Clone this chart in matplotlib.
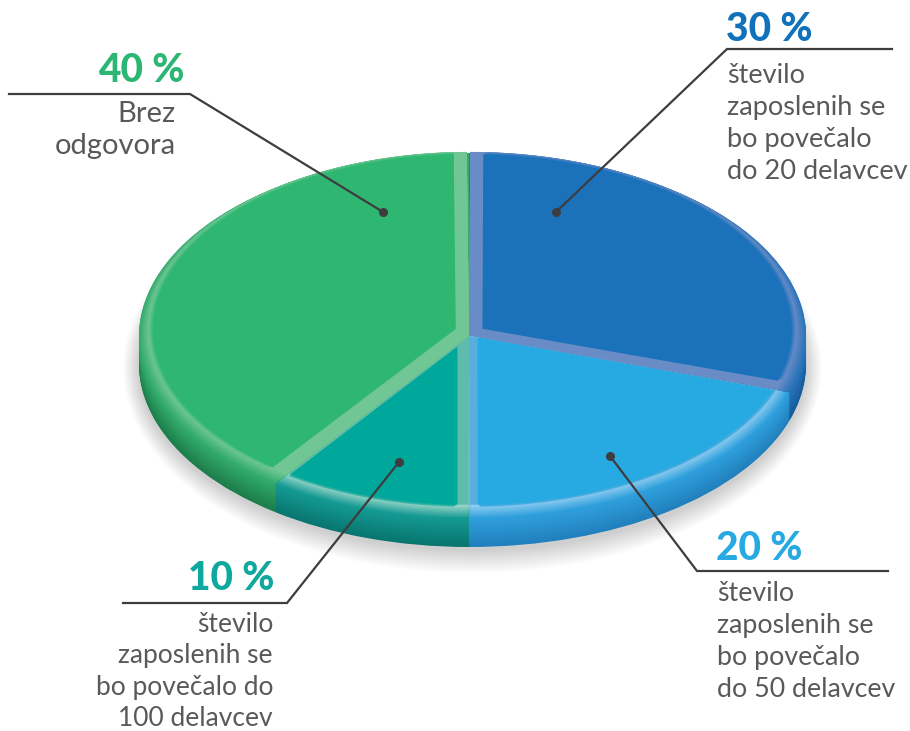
import numpy as np
import matplotlib
matplotlib.use("Agg")
import matplotlib.pyplot as plt
from matplotlib.patches import Ellipse, Polygon
from matplotlib.colors import to_rgb
from matplotlib.transforms import Affine2D

plt.rcParams["font.family"] = ["Lato", "DejaVu Sans"]

# chart data, clockwise from 12 o'clock
shares = [30, 20, 10, 40]
pct_labels = ["30 %", "20 %", "10 %", "40 %"]
descriptions = [
    ["število", "zaposlenih se", "bo povečalo", "do 20 delavcev"],
    ["število", "zaposlenih se", "bo povečalo", "do 50 delavcev"],
    ["število", "zaposlenih se", "bo povečalo do", "100 delavcev"],
    ["Brez", "odgovora"],
]

# styles
main_cols = ["#1b72bb", "#27a9e1", "#00a79b", "#2fb772"]
text_cols = ["#0f72ba", "#27a9e1", "#0fa89e", "#2bb673"]
high_cols = ["#6a8cc6", "#8ccbf0", "#93d3c6", "#70c795"]
strip_cols = ["#6a8cc6", "#58aede", "#5dbcac", "#70c795"]
side_top = ["#2a74ba", "#2e9fdc", "#149a93", "#33ab6c"]
side_bot = ["#155b9a", "#2180bd", "#08756f", "#1c7d4a"]
grey = "#58595b"
line_col = "#3d3d40"

W, H = 910, 731
cx, cy, rx, ry = 469, 336, 334, 183
depth = 28
# the disc is a little wider to the right of the seam than to the left
x_stretch = [1.009, 1.009, 0.988, 0.988]


def blend(a, b, f):
    a, b = np.array(to_rgb(a)), np.array(to_rgb(b))
    return tuple(a + (b - a) * f)


def inset_sector(t1, t2, m1, m2, R, dy):
    # sector with its two straight edges moved inwards and the arc moved up
    a1, a2 = np.radians(t1), np.radians(t2)
    n1 = np.array([-np.sin(a1), np.cos(a1)])
    n2 = np.array([np.sin(a2), -np.cos(a2)])
    apex = np.linalg.solve(np.array([n1, n2]), np.array([m1, m2]))
    th = np.linspace(a1 - 0.4, a2 + 0.4, 400)
    pts = np.column_stack([R * np.cos(th), dy + R * np.sin(th)])
    keep = (pts @ n1 >= m1) & (pts @ n2 >= m2)
    return np.vstack([apex, pts[keep]])


fig = plt.figure(figsize=(W / 100, H / 100), dpi=100)
ax = fig.add_axes([0, 0, 1, 1])


def stretched(i):
    return Affine2D().scale(x_stretch[i], 1) + ax.transData


# soft shadow under the disc
for k in range(16):
    grow = 1 + k * 0.003
    ax.add_patch(Ellipse((0.01, -(depth + 4) / ry), 2 * grow, 2 * (1 + k * 0.008),
                         color="black", alpha=0.013, lw=0, zorder=0))

# side wall, stacked from the bottom up
n_side = depth
for d in range(n_side, 0, -1):
    f = d / n_side
    cols = [blend(a, b, f) for a, b in zip(side_top, side_bot)]
    side, _ = ax.pie(shares, startangle=90, counterclock=False, colors=cols,
                     center=(0, -d / ry), radius=1,
                     wedgeprops={"linewidth": 0.6, "edgecolor": "none"})
    for i, w in enumerate(side):
        w.set_transform(stretched(i))

# top surface
wedges, _ = ax.pie(shares, startangle=90, counterclock=False, colors=side_top,
                   center=(0, 0), radius=1, wedgeprops={"linewidth": 0})

# how far the flat face sits inside each wedge (theta1 edge, theta2 edge)
edge_inset = [(0.05, 0.04), (0.025, 0.0), (0.006, 0.035), (0.04, 0.055)]
full_R = 0.958
full_dy = 0.036

for i, w in enumerate(wedges):
    w.set_transform(stretched(i))
    t1, t2 = w.theta1, w.theta2
    # bevel along the rim
    for k in range(1, 9):
        f = k / 8
        R = 1 + (full_R + 0.012 - 1) * f
        dy = full_dy * f
        ax.add_patch(Polygon(inset_sector(t1, t2, 0, 0, R, dy),
                             color=blend(side_top[i], high_cols[i], f), lw=0,
                             transform=stretched(i)))
    # strips along the straight edges
    ax.add_patch(Polygon(inset_sector(t1, t2, 0, 0, full_R, full_dy),
                         color=strip_cols[i], lw=0, transform=stretched(i)))
    # flat face, soft edge towards the bevel
    m1, m2 = edge_inset[i]
    for k in range(4):
        f = (k + 1) / 4
        s = 1 + (3 - k) * 0.08
        ax.add_patch(Polygon(inset_sector(t1, t2, m1 * s, m2 * s, full_R + (3 - k) * 0.004, full_dy),
                             color=blend(strip_cols[i], main_cols[i], f), lw=0,
                             transform=stretched(i)))

ax.set_xlim((0 - cx) / rx, (W - cx) / rx)
ax.set_ylim((cy - H) / ry, cy / ry)
ax.set_aspect("auto")
ax.axis("off")

# overlay in pixel coordinates for the leaders and the labels
ov = fig.add_axes([0, 0, 1, 1])
ov.set_xlim(0, W)
ov.set_ylim(H, 0)
ov.axis("off")
ov.patch.set_alpha(0)

leaders = [
    ([892, 727, 556], [49, 49, 212]),
    ([888, 697, 610], [571, 571, 456]),
    ([123, 287, 399], [603, 603, 462]),
    ([9, 190, 383], [94, 94, 212]),
]
for lx, ly in leaders:
    ov.plot(lx, ly, color=line_col, lw=1.6, solid_joinstyle="miter")
    ov.plot(lx[-1], ly[-1], "o", color=line_col, ms=6.5, mew=0)

pct_pos = [(726, 41, "left"), (716, 560, "left"), (274, 590, "right"), (184, 82, "right")]
desc_pos = [(727, 83, "left"), (717, 601, "left"), (273, 632, "right"), (176, 122, "right")]
desc_size = [19.5, 19.3, 19, 21]
line_steps = [32, 32, 31.3, 32]

for i in range(4):
    px, py, ha = pct_pos[i]
    ov.text(px, py, pct_labels[i], color=text_cols[i], fontsize=28, fontweight=900,
            ha=ha, va="baseline")
    dx, dy, ha = desc_pos[i]
    for j, txt in enumerate(descriptions[i]):
        ov.text(dx, dy + j * line_steps[i], txt, color=grey, fontsize=desc_size[i],
                ha=ha, va="baseline")

fig.savefig("out.png", dpi=100)
